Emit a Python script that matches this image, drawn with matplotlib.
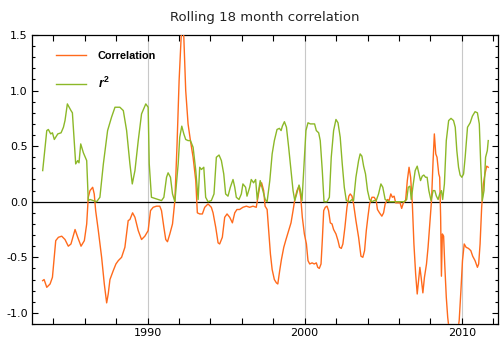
import matplotlib
matplotlib.use("Agg")
import matplotlib.pyplot as plt
from matplotlib.ticker import MultipleLocator, FixedLocator

# rolling correlation
corr_year = [1983.33, 1983.42, 1983.59, 1983.80, 1983.95, 1984.16, 1984.33, 1984.54, 1984.75, 1984.96,
             1985.13, 1985.39, 1985.56, 1985.77, 1985.98, 1986.13, 1986.23, 1986.34, 1986.51, 1986.61,
             1986.70, 1986.87, 1987.08, 1987.25, 1987.40, 1987.50, 1987.61, 1987.82, 1987.99, 1988.14,
             1988.35, 1988.56, 1988.77, 1988.88, 1989.05, 1989.20, 1989.41, 1989.62, 1989.83,
             1990.04, 1990.19, 1990.36, 1990.57, 1990.78, 1990.89, 1991.04, 1991.16, 1991.27, 1991.42,
             1991.59, 1991.74, 1991.88, 1992.01, 1992.14, 1992.22, 1992.31, 1992.43, 1992.58, 1992.73,
             1992.90, 1993.07, 1993.17, 1993.32, 1993.49, 1993.64, 1993.85, 1994.06, 1994.17, 1994.34,
             1994.49, 1994.59, 1994.76, 1994.91, 1995.06, 1995.23, 1995.40, 1995.55, 1995.69, 1995.86,
             1996.07, 1996.29, 1996.50, 1996.71, 1996.92, 1997.13, 1997.26, 1997.39, 1997.48,
             1997.61, 1997.71, 1997.82, 1997.93, 1998.07, 1998.20, 1998.29, 1998.41, 1998.52, 1998.67,
             1998.81, 1998.98, 1999.13, 1999.26, 1999.37, 1999.51, 1999.64, 1999.75, 1999.85, 1999.98,
             2000.11, 2000.21, 2000.32, 2000.47, 2000.61, 2000.74, 2000.83, 2000.93, 2001.04, 2001.12,
             2001.21, 2001.31, 2001.42, 2001.52, 2001.63, 2001.74, 2001.84, 2001.99, 2002.12, 2002.22,
             2002.33, 2002.43, 2002.56, 2002.69, 2002.81, 2002.90, 2003.01, 2003.11, 2003.26, 2003.43,
             2003.58, 2003.70, 2003.81, 2003.92, 2004.02, 2004.13, 2004.28, 2004.42, 2004.55, 2004.63,
             2004.76, 2004.91, 2005.02, 2005.12, 2005.27, 2005.37, 2005.48, 2005.58, 2005.69, 2005.79,
             2005.94, 2006.07, 2006.17, 2006.28, 2006.42, 2006.53, 2006.64, 2006.74, 2006.85, 2006.95,
             2007.06, 2007.16, 2007.27, 2007.33, 2007.41, 2007.52, 2007.62, 2007.75, 2007.85, 2007.96,
             2008.07, 2008.17, 2008.25, 2008.34, 2008.42, 2008.53, 2008.59, 2008.65, 2008.70, 2008.76,
             2008.84, 2008.91, 2009.01, 2009.10, 2009.18, 2009.37, 2009.68, 2009.83, 2009.94, 2010.04,
             2010.15, 2010.27, 2010.42, 2010.57, 2010.69, 2010.84, 2010.99, 2011.07, 2011.16, 2011.26,
             2011.37, 2011.47, 2011.58, 2011.68]
corr_val = [-0.71, -0.70, -0.77, -0.74, -0.68, -0.35, -0.32, -0.31, -0.34, -0.40,
            -0.38, -0.25, -0.32, -0.40, -0.35, -0.20, 0.04, 0.10, 0.13, 0.07,
            -0.08, -0.26, -0.50, -0.74, -0.91, -0.83, -0.70, -0.62, -0.56, -0.53,
            -0.50, -0.41, -0.17, -0.16, -0.10, -0.14, -0.26, -0.34, -0.31,
            -0.26, -0.08, -0.05, -0.04, -0.04, -0.08, -0.23, -0.34, -0.36, -0.29,
            -0.20, 0.01, 0.52, 1.09, 1.48, 1.62, 1.48, 1.00, 0.70, 0.55,
            0.40, 0.19, -0.10, -0.11, -0.11, -0.05, -0.02, -0.05, -0.10, -0.23,
            -0.37, -0.38, -0.32, -0.14, -0.11, -0.14, -0.19, -0.10, -0.07, -0.07,
            -0.05, -0.04, -0.05, -0.04, -0.05, 0.13, 0.17, 0.10, -0.04,
            -0.07, -0.26, -0.47, -0.61, -0.70, -0.73, -0.74, -0.62, -0.52, -0.41,
            -0.34, -0.26, -0.19, -0.08, 0.02, 0.10, 0.14, 0.04, -0.14, -0.29,
            -0.38, -0.53, -0.56, -0.55, -0.56, -0.55, -0.59, -0.60, -0.56, -0.35,
            -0.08, -0.05, -0.04, -0.08, -0.19, -0.20, -0.25, -0.29, -0.35, -0.41,
            -0.42, -0.38, -0.23, -0.05, 0.05, 0.07, 0.05, -0.02, -0.17, -0.32,
            -0.49, -0.50, -0.44, -0.26, -0.14, -0.02, 0.04, 0.04, 0.01, -0.07,
            -0.10, -0.13, -0.10, -0.02, 0.02, 0.01, 0.07, 0.04, 0.05, -0.01,
            -0.01, -0.01, -0.06, -0.01, 0.01, 0.19, 0.31, 0.22, -0.02, -0.38,
            -0.65, -0.83, -0.68, -0.59, -0.68, -0.82, -0.68, -0.56, -0.41, -0.20,
            0.01, 0.37, 0.61, 0.43, 0.40, 0.25, 0.22, -0.14, -0.67, -0.29,
            -0.31, -0.56, -0.86, -1.04, -1.14, -1.22, -1.22, -1.07, -0.80, -0.53,
            -0.38, -0.41, -0.42, -0.44, -0.49, -0.53, -0.59, -0.56, -0.38, -0.05,
            0.16, 0.25, 0.32, 0.31]

# r squared
r2_year = [1983.33, 1983.59, 1983.69, 1983.84, 1983.95, 1984.07, 1984.29, 1984.50, 1984.65, 1984.75,
           1984.90, 1985.13, 1985.22, 1985.43, 1985.56, 1985.64, 1985.75, 1985.92, 1986.13, 1986.23,
           1986.34, 1986.55, 1986.76, 1986.97, 1987.19, 1987.46, 1987.71, 1987.93, 1988.24, 1988.46,
           1988.67, 1988.88, 1989.03, 1989.20, 1989.41, 1989.62, 1989.89, 1990.04,
           1990.11, 1990.25, 1990.47, 1990.68, 1990.89, 1991.04, 1991.21, 1991.31, 1991.46, 1991.59,
           1991.74, 1991.95, 1992.05, 1992.18, 1992.31, 1992.43, 1992.58, 1992.73, 1992.90, 1993.07,
           1993.22, 1993.32, 1993.43, 1993.58, 1993.70, 1993.85, 1994.06, 1994.23, 1994.38, 1994.55,
           1994.70, 1994.85, 1994.97, 1995.12, 1995.27, 1995.44, 1995.55, 1995.65, 1995.82, 1995.97,
           1996.07, 1996.24, 1996.33, 1996.50, 1996.60, 1996.75, 1996.88, 1996.98, 1997.17, 1997.34,
           1997.49, 1997.61, 1997.78, 1997.93, 1998.07, 1998.24, 1998.39, 1998.50, 1998.58, 1998.71,
           1998.84, 1998.98, 1999.13, 1999.26, 1999.37, 1999.51, 1999.64, 1999.72, 1999.83, 1999.94,
           2000.08, 2000.21, 2000.36, 2000.51, 2000.63, 2000.74, 2000.89, 2000.99, 2001.12, 2001.23,
           2001.42, 2001.57, 2001.69, 2001.84, 2001.99, 2002.12, 2002.26, 2002.39, 2002.52, 2002.65,
           2002.86, 2003.01, 2003.11, 2003.26, 2003.43, 2003.53, 2003.64, 2003.75, 2003.87, 2004.00,
           2004.13, 2004.28, 2004.42, 2004.55, 2004.70, 2004.85, 2004.97, 2005.12, 2005.37, 2005.69,
           2006.00, 2006.32, 2006.49, 2006.59, 2006.70, 2006.78, 2006.91, 2007.03, 2007.16, 2007.27,
           2007.37, 2007.48, 2007.58, 2007.69, 2007.79, 2007.90, 2008.04, 2008.17, 2008.28, 2008.38,
           2008.49, 2008.59, 2008.70, 2008.78, 2008.89, 2009.01, 2009.16, 2009.31, 2009.47, 2009.58,
           2009.68, 2009.79, 2009.89, 2010.00, 2010.11, 2010.21, 2010.36, 2010.53, 2010.67, 2010.84,
           2010.99, 2011.11, 2011.20, 2011.30, 2011.41, 2011.51, 2011.62, 2011.68]
r2_val = [0.28, 0.64, 0.65, 0.61, 0.62, 0.56, 0.61, 0.62, 0.67, 0.73,
          0.88, 0.82, 0.80, 0.34, 0.37, 0.35, 0.52, 0.44, 0.37, 0.01,
          0.02, 0.01, 0.00, 0.04, 0.34, 0.64, 0.76, 0.85, 0.85, 0.82,
          0.64, 0.34, 0.16, 0.28, 0.55, 0.79, 0.88, 0.85,
          0.34, 0.04, 0.03, 0.02, 0.01, 0.04, 0.22, 0.26, 0.22, 0.07,
          0.00, 0.34, 0.58, 0.68, 0.61, 0.56, 0.55, 0.55, 0.49, 0.28,
          0.02, 0.31, 0.29, 0.31, 0.04, 0.00, 0.01, 0.07, 0.40, 0.42,
          0.37, 0.25, 0.07, 0.05, 0.13, 0.20, 0.13, 0.04, 0.02, 0.07,
          0.16, 0.13, 0.05, 0.13, 0.20, 0.17, 0.20, 0.02, 0.19, 0.10,
          0.02, 0.00, 0.19, 0.43, 0.55, 0.65, 0.66, 0.64, 0.68, 0.72,
          0.67, 0.49, 0.28, 0.10, 0.01, 0.08, 0.15, 0.11, 0.01, 0.28,
          0.64, 0.71, 0.70, 0.70, 0.70, 0.64, 0.62, 0.55, 0.28, 0.00,
          0.00, 0.04, 0.40, 0.64, 0.74, 0.71, 0.58, 0.34, 0.13, 0.01,
          0.00, 0.02, 0.01, 0.22, 0.37, 0.43, 0.41, 0.32, 0.25, 0.10,
          0.02, 0.00, 0.01, 0.01, 0.07, 0.16, 0.13, 0.02, 0.00, 0.00,
          0.00, 0.00, 0.02, 0.13, 0.14, 0.02, 0.16, 0.28, 0.32, 0.25,
          0.19, 0.23, 0.24, 0.22, 0.22, 0.10, 0.01, 0.10, 0.10, 0.05,
          0.02, 0.07, 0.10, 0.02, 0.16, 0.55, 0.73, 0.75, 0.73, 0.67,
          0.46, 0.31, 0.24, 0.22, 0.25, 0.40, 0.67, 0.71, 0.77, 0.81,
          0.80, 0.70, 0.34, 0.01, 0.10, 0.40, 0.46, 0.55]

title = "Rolling 18 month correlation"
decades = [1990, 2000, 2010]

plt.rcParams['mathtext.fontset'] = 'custom'
plt.rcParams['mathtext.it'] = 'Liberation Sans:italic:bold'
plt.rcParams['mathtext.bf'] = 'Liberation Sans:bold'
plt.rcParams['mathtext.rm'] = 'Liberation Sans:bold'

fig = plt.figure(figsize=(5.0, 3.43), dpi=100)
ax = fig.add_axes([0.064, 0.0554, 0.932, 0.8426])

for d in decades:
    ax.axvline(d, color='#c8c8c8', lw=0.8, zorder=1)
ax.axhline(0, color='black', lw=0.9, zorder=2)

ax.plot(corr_year, corr_val, color='#ff6a1c', lw=1.0, label='Correlation', zorder=3)
ax.plot(r2_year, r2_val, color='#8cb828', lw=1.0, label=r'$r^{2}$', zorder=3)

ax.set_xlim(1982.65, 2012.3)
ax.set_ylim(-1.1, 1.5)

ax.xaxis.set_major_locator(FixedLocator(decades))
ax.xaxis.set_minor_locator(MultipleLocator(2))
ax.yaxis.set_major_locator(MultipleLocator(0.5))
ax.yaxis.set_minor_locator(MultipleLocator(0.1))
ax.yaxis.set_major_formatter(plt.FuncFormatter(lambda v, p: '%.1f' % v))

ax.tick_params(which='both', direction='in', top=True, right=True, labelsize=8,
               colors='black', width=0.8, pad=3)
ax.tick_params(which='major', length=4.5)
ax.tick_params(axis='x', which='minor', length=4)
ax.tick_params(axis='y', which='minor', length=2.5)
for s in ax.spines.values():
    s.set_linewidth(0.9)

ax.set_title(title, fontsize=9.5, color='#222222', pad=10)

leg = ax.legend(loc='upper left', bbox_to_anchor=(0.03, 0.98), frameon=False,
                handlelength=2.8, handletextpad=1.1, labelspacing=1.4,
                prop={'family': 'Liberation Sans', 'weight': 'bold', 'size': 7.8})
leg.get_texts()[1].set_fontsize(9)

fig.savefig('out.png', dpi=100)
